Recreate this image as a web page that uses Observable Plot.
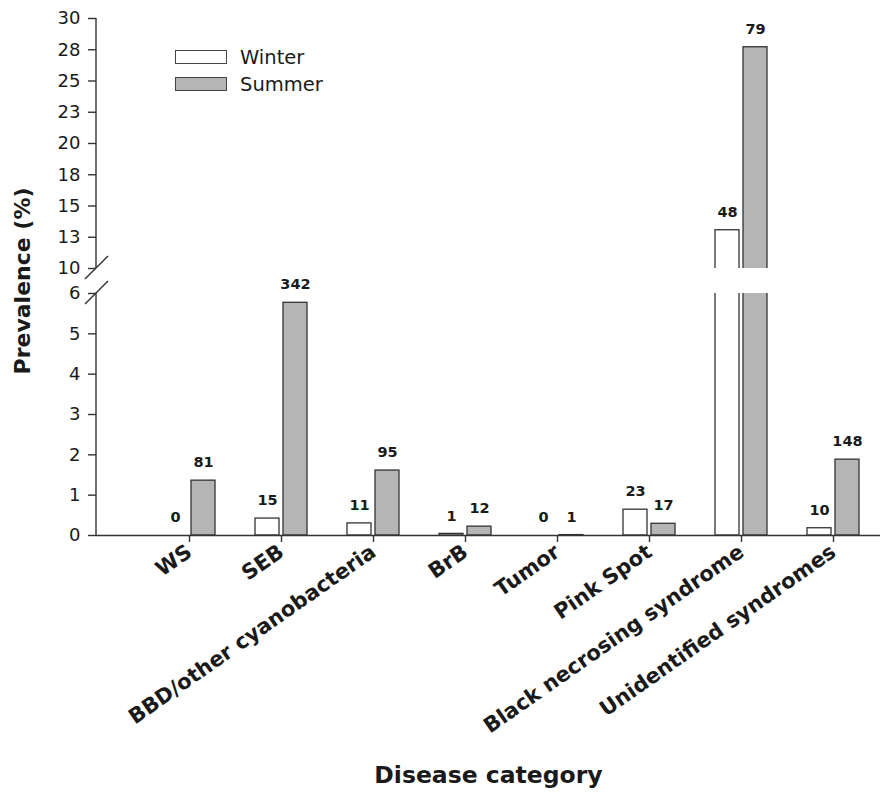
<!DOCTYPE html>
<html>
<head>
<meta charset="utf-8">
<script src="https://cdn.jsdelivr.net/npm/d3@7"></script>
<script src="https://cdn.jsdelivr.net/npm/@observablehq/plot@0.6"></script>
<style>
  html, body { margin: 0; padding: 0; background: #fff; }
  #wrap { position: relative; width: 880px; height: 797px; }
  #wrap svg { font-family: "DejaVu Sans", sans-serif; }
  [aria-label^="x-axis"] text { font-size: 21px; font-weight: bold; fill: #1a1a1a; }
  [aria-label^="y-axis"] text { font-size: 18px; fill: #1a1a1a; }
  [aria-label^="x-axis"] line, [aria-label^="x-axis"] path,
  [aria-label^="y-axis"] line, [aria-label^="y-axis"] path { stroke: #333; stroke-width: 1.4px; }
  #legend { position: absolute; left: 175px; top: 50px; font-family: "DejaVu Sans", sans-serif; font-size: 19.5px; color: #1a1a1a; }
  #legend .row { display: flex; align-items: center; height: 14px; margin-bottom: 13px; }
  #legend .box { width: 50px; height: 12px; border: 1.3px solid #444; margin-right: 13px; box-sizing: content-box; }
</style>
</head>
<body>
<div id="wrap"></div>
<script>
// ---- data ----
const categories = ["WS", "SEB", "BBD/other cyanobacteria", "BrB", "Tumor", "Pink Spot", "Black necrosing syndrome", "Unidentified syndromes"];
const seasons = ["Winter", "Summer"];
const winterPrevalence = [0, 0.42, 0.30, 0.04, 0, 0.64, 13.06, 0.18];
const summerPrevalence = [1.36, 5.77, 1.61, 0.22, 0.01, 0.29, 27.7, 1.88];
const winterCounts = [0, 15, 11, 1, 0, 23, 48, 10];
const summerCounts = [81, 342, 95, 12, 1, 17, 79, 148];
const yTicks = [0, 1, 2, 3, 4, 5, 6, 10, 12.5, 15, 17.5, 20, 22.5, 25, 27.5, 30];
const yBreakDomain = [0, 6, 10, 30];
const breakAt = [6, 10];
const seasonFill = {Winter: "#ffffff", Summer: "#b5b5b5"};

const winter = categories.map((c, i) => ({category: c, value: winterPrevalence[i], n: winterCounts[i]}));
const summer = categories.map((c, i) => ({category: c, value: summerPrevalence[i], n: summerCounts[i]}));

// axis line with break and slash marks, drawn through the y scale
function breakMarks(index, scales, values, dimensions) {
  const ns = "http://www.w3.org/2000/svg";
  const g = document.createElementNS(ns, "g");
  g.setAttribute("stroke", "#333");
  g.setAttribute("stroke-width", "1.4");
  const x0 = dimensions.marginLeft;
  const segs = [[yBreakDomain[0], breakAt[0]], [breakAt[1], yBreakDomain[yBreakDomain.length - 1]]];
  for (const [a, b] of segs) {
    const l = document.createElementNS(ns, "line");
    l.setAttribute("x1", x0); l.setAttribute("x2", x0);
    l.setAttribute("y1", scales.y(a)); l.setAttribute("y2", scales.y(b));
    g.appendChild(l);
  }
  for (const v of breakAt) {
    const y = scales.y(v);
    const l = document.createElementNS(ns, "line");
    l.setAttribute("x1", x0 - 11); l.setAttribute("y1", y + 11);
    l.setAttribute("x2", x0 + 12); l.setAttribute("y2", y - 12);
    g.appendChild(l);
  }
  return g;
}

const chart = Plot.plot({
  width: 880,
  height: 797,
  marginLeft: 96,
  marginRight: 0,
  marginTop: 18,
  marginBottom: 262,
  style: {background: "#fff", fontFamily: "DejaVu Sans, sans-serif", overflow: "visible"},
  x: {type: "band", domain: categories, range: [142, 880], padding: 0, label: null, tickRotate: -35, tickSize: 7, tickPadding: 7},
  y: {type: "linear", domain: yBreakDomain, range: [535, 293, 268, 18], ticks: yTicks, tickFormat: d => String(Math.round(d)), tickSize: 8, tickPadding: 8, label: null},
  marks: [
    Plot.barY(winter, {x: "category", y: "value", fill: seasonFill.Winter, stroke: "#333", strokeWidth: 1.3, insetLeft: 20, insetRight: 48}),
    Plot.barY(summer, {x: "category", y: "value", fill: seasonFill.Summer, stroke: "#333", strokeWidth: 1.3, insetLeft: 48, insetRight: 20}),
    Plot.rect([breakAt], {y1: d => d[0], y2: d => d[1], fill: "white", insetLeft: 1}),
    Plot.ruleY([0], {stroke: "#333", strokeWidth: 1.5}),
    breakMarks,
    Plot.text(winter, {x: "category", y: "value", text: d => String(d.n), dx: -14, dy: -18, fontSize: 14.5, fontWeight: "bold", fill: "#1a1a1a"}),
    Plot.text(summer, {x: "category", y: "value", text: d => String(d.n), dx: 14, dy: -18, fontSize: 14.5, fontWeight: "bold", fill: "#1a1a1a"}),
    Plot.text(["Disease category"], {text: d => d, frameAnchor: "bottom", textAnchor: "middle", dy: 247, fontSize: 23.5, fontWeight: "bold", fill: "#1a1a1a"}),
    Plot.text(["Prevalence (%)"], {text: d => d, frameAnchor: "left", textAnchor: "middle", rotate: -90, dx: -74, dy: 4, fontSize: 22, fontWeight: "bold", fill: "#1a1a1a"})
  ]
});

const wrap = document.getElementById("wrap");
wrap.appendChild(chart);

const legend = document.createElement("div");
legend.id = "legend";
for (const s of seasons) {
  const row = document.createElement("div");
  row.className = "row";
  const box = document.createElement("div");
  box.className = "box";
  box.style.background = seasonFill[s];
  const label = document.createElement("span");
  label.textContent = s;
  row.appendChild(box);
  row.appendChild(label);
  legend.appendChild(row);
}
wrap.appendChild(legend);
</script>
</body>
</html>
